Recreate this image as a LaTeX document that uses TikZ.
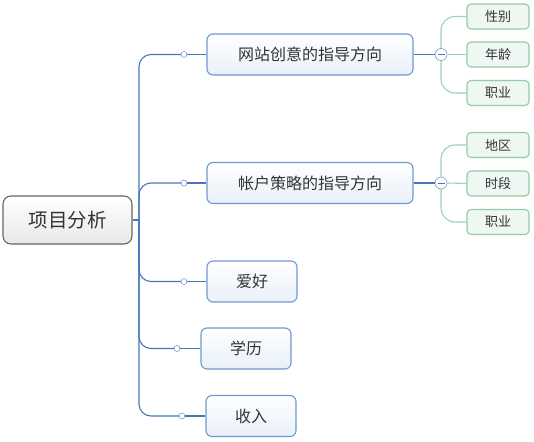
\documentclass[tikz,border=0pt]{standalone}
\usepackage{fontspec}
\setmainfont{Noto Sans CJK SC}
\usetikzlibrary{positioning}

\definecolor{linkblue}{HTML}{4676B8}
\definecolor{boxblue}{HTML}{6E98CF}
\definecolor{fillblue}{HTML}{E9F0F9}
\definecolor{linkgreen}{HTML}{9CD2AE}
\definecolor{boxgreen}{HTML}{92CCA5}
\definecolor{fillgreen}{HTML}{EEF7F1}
\definecolor{textgray}{HTML}{333333}

\tikzset{
  rootbox/.style={draw=black!60, line width=1.1, rounded corners=8, top color=white, bottom color=black!9,
    minimum width=129, minimum height=48, inner sep=0, text=textgray, font=\fontsize{19.5}{21}\selectfont},
  topicbox/.style={draw=boxblue, line width=1.1, rounded corners=6, top color=white, bottom color=fillblue,
    minimum height=41, inner sep=0, text=textgray, font=\fontsize{16}{18}\selectfont},
  leafbox/.style={draw=boxgreen, line width=1.1, rounded corners=4, fill=fillgreen,
    minimum width=62, minimum height=25, inner sep=0, text=textgray, font=\fontsize{13}{15}\selectfont},
  knob/.style={draw=linkblue, fill=white, circle, minimum size=6, inner sep=0},
  fold/.style={draw=linkblue, fill=white, circle, minimum size=12, inner sep=0,
    path picture={\draw[linkblue] ([xshift=2.5]path picture bounding box.west) -- ([xshift=-2.5]path picture bounding box.east);}},
  blueline/.style={draw=linkblue, line width=1.1},
  greenline/.style={draw=linkgreen, line width=1.1}
}

\begin{document}
\begin{tikzpicture}[x=1pt, y=-1pt]
	\useasboundingbox (0,0) rectangle (534,441);

	\node (root) [rootbox] at (67.5,220) {项目分析};
	\coordinate (trunk) at (139,220);

	\node (web) [topicbox, minimum width=206] at (310,54.5) {网站创意的指导方向};
	\node (acct) [topicbox, minimum width=206] at (310,183) {帐户策略的指导方向};
	\node (hobby) [topicbox, minimum width=90] at (252,281.5) {爱好};
	\node (edu) [topicbox, minimum width=90] at (246,348.5) {学历};
	\node (pay) [topicbox, minimum width=90] at (251,416) {收入};

	\node (k1) [knob] at (184,54.5) {};
	\node (k2) [knob] at (184,183) {};
	\node (k3) [knob] at (184,281.5) {};
	\node (k4) [knob] at (177,348.5) {};
	\node (k5) [knob] at (182,416) {};

	\draw [blueline] (root.east) -- (trunk);
	\draw [blueline, rounded corners=12] (trunk) |- (k1.west);
	\draw [blueline, rounded corners=12] (trunk) |- (k2.west);
	\draw [blueline, rounded corners=12] (trunk) |- (k3.west);
	\draw [blueline, rounded corners=12] (trunk) |- (k4.west);
	\draw [blueline, rounded corners=12] (trunk) |- (k5.west);
	\draw [blueline] (k1.east) -- (web.west);
	\draw [blueline] (k2.east) -- (acct.west);
	\draw [blueline] (k3.east) -- (hobby.west);
	\draw [blueline] (k4.east) -- (edu.west);
	\draw [blueline] (k5.east) -- (pay.west);

	% children of the first topic
	\node (sex) [leafbox] at (498,16.5) {性别};
	\node (age) [leafbox] at (498,54.5) {年龄};
	\node (job1) [leafbox] at (498,93) {职业};
	\node (f1) [fold] at (441,54.5) {};
	\draw [blueline] (web.east) -- (f1.west);
	\draw [greenline, rounded corners=14] (f1.north) |- (sex.west);
	\draw [greenline] (f1.east) -- (age.west);
	\draw [greenline, rounded corners=14] (f1.south) |- (job1.west);

	% children of the second topic
	\node (area) [leafbox] at (498,145) {地区};
	\node (slot) [leafbox] at (498,183.5) {时段};
	\node (job2) [leafbox] at (498,222) {职业};
	\node (f2) [fold] at (441,183) {};
	\draw [blueline] (acct.east) -- (f2.west);
	\draw [greenline, rounded corners=14] (f2.north) |- (area.west);
	\draw [greenline] (f2.east) -- (slot.west);
	\draw [greenline, rounded corners=14] (f2.south) |- (job2.west);
\end{tikzpicture}
\end{document}
